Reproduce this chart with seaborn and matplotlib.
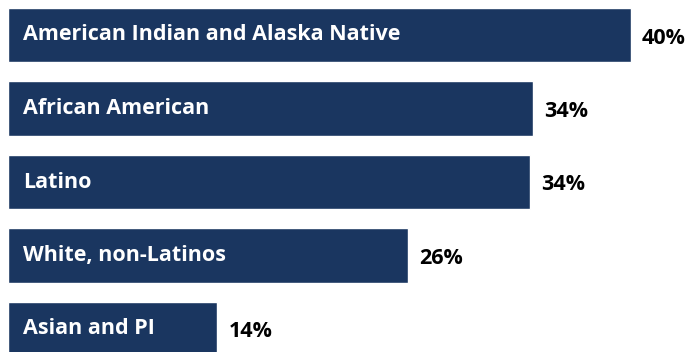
import matplotlib
matplotlib.use("Agg")
import matplotlib.pyplot as plt
import seaborn as sns
import pandas as pd

categories = ["American Indian and Alaska Native", "African American", "Latino",
              "White, non-Latinos", "Asian and PI"]
values = [40.45, 34.1, 33.9, 26.0, 13.6]
value_labels = ["40%", "34%", "34%", "26%", "14%"]

sns.set_theme(style="white")
plt.rcParams['font.family'] = ['Open Sans', 'DejaVu Sans']

df = pd.DataFrame({"group": categories, "pct": values})

fig = plt.figure(figsize=(6.92, 3.52), dpi=100)
ax = fig.add_axes([0, 0, 1, 1])
sns.barplot(data=df, y="group", x="pct", orient="h", color="#1a3660",
            saturation=1, width=0.735, ax=ax)

px = 15.4
ax.set_xlim(-8 / px, (692 - 8) / px)
step = 73.5
ax.set_ylim((352 - 35) / step, -35 / step)

for i, (cat, v, lab) in enumerate(zip(categories, values, value_labels)):
    ax.text(15 / px, i + 0 / step, cat, color="white", fontsize=15.5,
            fontweight="bold", va="center", ha="left")
    ax.text(v + 11 / px, i + 3 / step, lab, color="black", fontsize=15.5,
            fontweight="bold", va="center", ha="left")

ax.set_axis_off()
fig.savefig("out.png", dpi=100)
